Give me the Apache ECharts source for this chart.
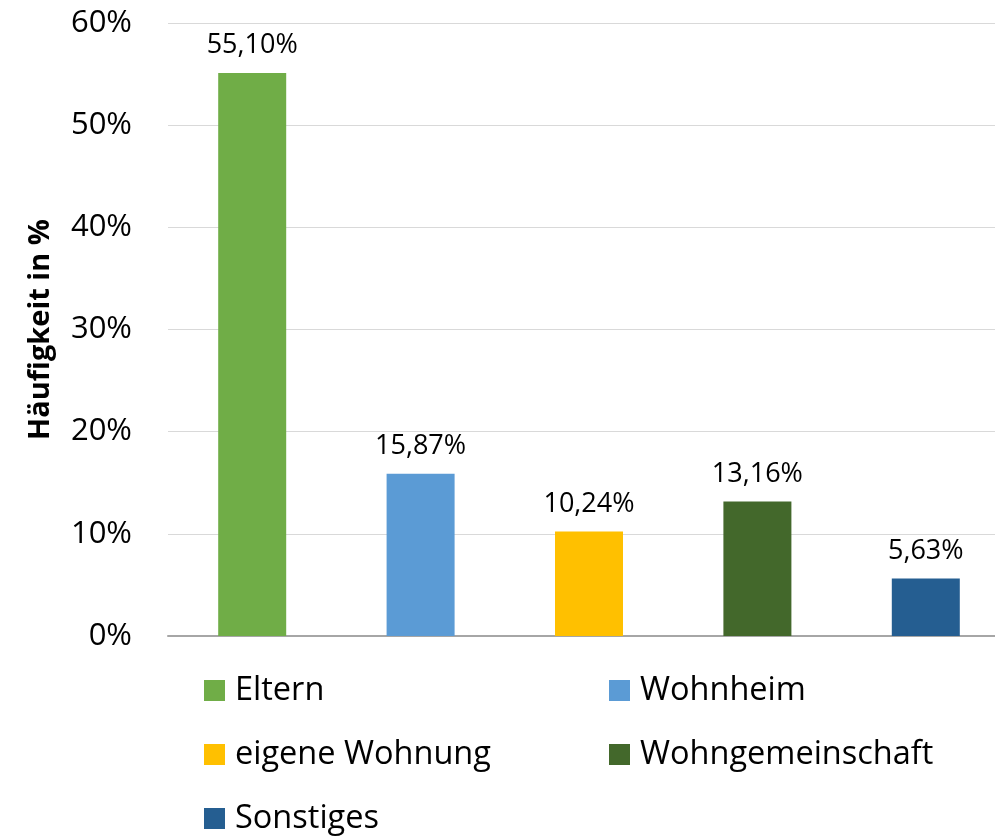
<!DOCTYPE html>
<html lang="de">
<head>
    <meta charset="UTF-8">
    <title>Wohnsituation</title>
    <script src="https://cdn.jsdelivr.net/npm/echarts@6/dist/echarts.min.js"></script>
    <style>
        html, body { margin: 0; padding: 0; background: #fff; }
        #chart1 { width: 995px; height: 836px; }
    </style>
</head>
<body>
<div id="chart1"></div>
<script>
    var categories = ['Eltern', 'Wohnheim', 'eigene Wohnung', 'Wohngemeinschaft', 'Sonstiges'];
    var values = [55.10, 15.87, 10.24, 13.16, 5.63];
    var colors = ['#70ad47', '#5b9bd5', '#ffc000', '#43682b', '#255e91'];
    var yTicks = [0, 10, 20, 30, 40, 50, 60];

    var fontName = '"Open Sans"';

    function pct(v) {
        return v.toFixed(2).replace('.', ',') + '%';
    }

    var series = [];
    categories.forEach(function (name, i) {
        var d = categories.map(function (c, j) { return j === i ? values[i] : null; });
        series.push({
            name: name,
            type: 'bar',
            stack: 'all',
            barWidth: 68,
            data: d,
            itemStyle: { color: colors[i] },
            label: {
                show: true,
                position: 'top',
                distance: 14,
                color: '#000',
                fontFamily: fontName,
                fontSize: 27,
                formatter: function (p) { return pct(p.value); }
            }
        });
    });

    var legendStyle = {
        orient: 'vertical',
        icon: 'rect',
        itemWidth: 21,
        itemHeight: 21,
        itemGap: 31,
        padding: 0,
        selectedMode: false,
        textStyle: { fontFamily: fontName, fontSize: 32.5, color: '#000', lineHeight: 33, padding: [0, 0, 0, 5] }
    };

    var ctx1 = echarts.init(document.getElementById('chart1'));
    ctx1.setOption({
        animation: false,
        grid: { left: 168, top: 23, width: 842, bottom: 200, outerBoundsMode: 'none' },
        legend: [
            Object.assign({ left: 204, top: 674, data: ['Eltern', 'eigene Wohnung', 'Sonstiges'] }, legendStyle),
            Object.assign({ left: 609, top: 674, data: ['Wohnheim', 'Wohngemeinschaft'] }, legendStyle)
        ],
        xAxis: {
            type: 'category',
            data: categories,
            axisLine: { lineStyle: { color: '#a6a6a6', width: 2 } },
            axisTick: { show: false },
            axisLabel: { show: false }
        },
        yAxis: {
            type: 'value',
            min: yTicks[0],
            max: yTicks[yTicks.length - 1],
            interval: 10,
            name: 'Häufigkeit in %',
            nameLocation: 'middle',
            nameGap: 113,
            nameTextStyle: { fontFamily: fontName, fontSize: 29, fontWeight: 'bold', color: '#000' },
            axisLine: { show: false },
            axisTick: { show: false },
            splitLine: { lineStyle: { color: '#d9d9d9', width: 1 } },
            axisLabel: {
                margin: 36,
                fontFamily: fontName,
                fontSize: 31,
                color: '#000',
                formatter: function (v) { return v + '%'; }
            }
        },
        series: series
    });
</script>
</body>
</html>
